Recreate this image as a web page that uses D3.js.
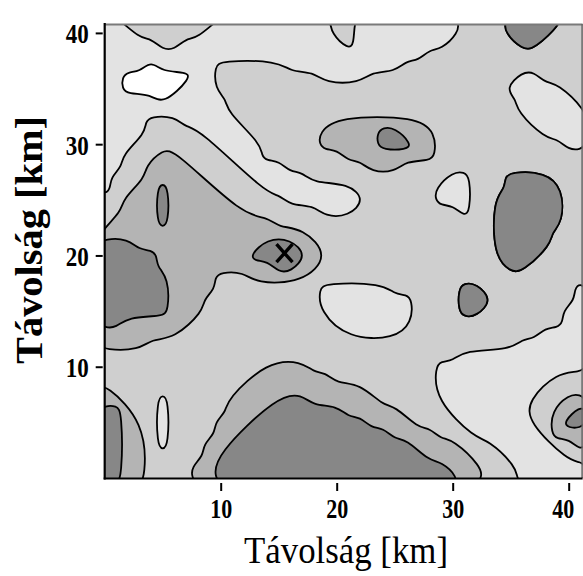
<!DOCTYPE html>
<html><head><meta charset="utf-8">
<script src="https://cdn.jsdelivr.net/npm/d3@7"></script>
<style>html,body{margin:0;padding:0;background:#fff;} svg{display:block;}</style>
</head><body>
<svg id="c" width="583" height="576"></svg>
<script>
// Classified map, 1 km grid: columns x = 0..41 km, rows from y = 41 km (top) down to y = 0 km.
// Run-length encoded rows: W white, L light, M medium, G grey, D dark.
const classRows = [
"L2 M8 L10 M2 L9 M4 D5 M2",
"L3 M6 L11 M2 L9 M4 D4 M3",
"L5 M2 L14 M1 L8 M6 D2 M4",
"L28 M14",
"L4 W1 L5 M6 L10 M16",
"L2 W6 L2 M9 L4 M13 L2 M4",
"L2 W5 L3 M25 L5 M2",
"L5 W1 L5 M25 L5 M1",
"L11 M25 L6",
"L4 M3 L5 M8 G8 M9 L5",
"L4 M5 L4 M6 G5 D2 G3 M9 L4",
"L3 M7 L4 M5 G5 D3 G2 M11 L2",
"L2 M3 G2 M4 L3 M7 G8 M13",
"L2 M2 G4 M4 L4 M7 G3 M16",
"L1 M3 G5 M4 L5 M12 L2 M3 D4 M3",
"L1 M2 G2 D1 G4 M4 L8 M7 L3 M3 D5 M2",
"M2 G3 D1 G5 M5 L7 M6 L3 M2 D6 M2",
"M2 G3 D1 G6 M7 L3 M9 L1 M2 D6 M2",
"M1 G4 D1 G9 M19 D6 M2",
"G18 M16 D5 M3",
"D3 G11 D3 G2 M15 D5 M3",
"D5 G8 D5 G2 M14 D4 M4",
"D5 G10 D2 G2 M16 D2 M5",
"D6 G4 M3 G5 M24",
"D6 G4 M9 L6 M6 D2 M8 L1",
"D6 G3 M10 L8 M4 D3 M7 L1",
"D6 G3 M10 L8 M4 D2 M7 L2",
"D2 G6 M12 L7 M13 L2",
"G7 M14 L5 M12 L4",
"G4 M32 L6",
"M31 L11",
"M14 G4 M11 L13",
"M13 G7 M9 L10 M3",
"G1 M11 G11 M6 L9 M4",
"G2 M3 L1 M5 G4 D3 G6 M5 L8 M3 G2",
"D2 G1 M2 L1 M5 G3 D7 G5 M4 L7 M2 G2 D1",
"D2 G2 M1 L1 M4 G3 D10 G4 M4 L6 M2 G1 D2",
"D2 G2 M1 L1 M4 G2 D13 G4 M3 L6 M1 G3",
"D2 G2 M1 L1 M3 G2 D16 G4 M3 L5 M2 G1",
"D2 G2 M5 G1 D18 G4 M3 L5 M2",
"D2 G2 M4 G2 D20 G3 M3 L6",
"D2 G2 M4 G2 D21 G2 M3 L6"
];
const gridTopKm = 41;           // y of first row
const classColors = {W:"#ffffff", L:"#e3e3e3", M:"#cfcfcf", G:"#b4b4b4", D:"#878787"};
const layerSets = [["L","W"], ["W"], ["G","D"], ["D"]];
const layerFill = ["L", "W", "G", "D"];
const xTicks = [10, 20, 30, 40];
const yTicks = [10, 20, 30, 40];
const markX = [15.5];
const markY = [20.2];
const xTitle = "Távolság [km]";
const yTitle = "Távolság [km]";

(function () {
const pL = 104.7, pR = 582.6, pT = 24, pB = 478;
const x = d3.scaleLinear().domain([0, 41.2]).range([pL, pR]);
const y = d3.scaleLinear().domain([0, 40.8]).range([pB, pT]);

const svg = d3.select("#c");
svg.append("defs").append("clipPath").attr("id", "clip")
  .append("rect").attr("x", pL).attr("y", pT).attr("width", pR - pL).attr("height", pB - pT);

const grid = classRows.map(r => r.split(" ").flatMap(t => Array(+t.slice(1)).fill(t[0])));
const nx = d3.max(grid, r => r.length), ny = grid.length;
grid.forEach(r => { while (r.length < nx) r.push(r[r.length - 1]); });

const plot = svg.append("g").attr("clip-path", "url(#clip)");
plot.append("rect").attr("x", pL).attr("y", pT).attr("width", pR - pL).attr("height", pB - pT)
  .attr("fill", classColors.M);

const line = d3.line().curve(d3.curveBasisClosed)
  .x(p => x(p[0] - 0.5)).y(p => y(gridTopKm + 0.5 - p[1]));

// keep only corner vertices of the marching-squares ring (and all vertices on the grid border)
function corners(ring) {
  const pts = ring.slice(0, -1), n = pts.length;
  const onEdge = p => p[0] <= 0 || p[0] >= nx || p[1] <= 0 || p[1] >= ny;
  return pts.filter((p, i) => {
    if (onEdge(p)) return true;
    const a = pts[(i - 1 + n) % n], b = pts[(i + 1) % n];
    const cr = (p[0] - a[0]) * (b[1] - p[1]) - (p[1] - a[1]) * (b[0] - p[0]);
    return Math.abs(cr) > 1e-9;
  });
}

layerSets.forEach((set, i) => {
  const values = grid.flat().map(c => set.includes(c) ? 1 : 0);
  const cont = d3.contours().size([nx, ny]).thresholds([0.5])(values)[0];
  const d = cont.coordinates.map(poly => poly.map(ring => line(corners(ring))).join("")).join("");
  plot.append("path").attr("d", d).attr("fill", classColors[layerFill[i]])
    .attr("fill-rule", "evenodd").attr("stroke", "#000").attr("stroke-width", 1.8)
    .attr("stroke-linejoin", "round");
});

// X marker
markX.forEach((mx, i) => {
  const cx = x(mx), cy = y(markY[i]);
  plot.append("path").attr("d", `M${cx-8},${cy-9}L${cx+8},${cy+9}M${cx+8},${cy-9}L${cx-8},${cy+9}`)
    .attr("stroke", "#000").attr("stroke-width", 3.4);
});

// frame
svg.append("line").attr("x1", pL).attr("x2", pR).attr("y1", pT + 0.5).attr("y2", pT + 0.5)
  .attr("stroke", "#7a7a7a").attr("stroke-width", 2);
svg.append("line").attr("x1", pR - 0.5).attr("x2", pR - 0.5).attr("y1", pT).attr("y2", pB)
  .attr("stroke", "#666").attr("stroke-width", 1.5);
svg.append("line").attr("x1", pL).attr("x2", pL).attr("y1", pT - 1).attr("y2", pB + 1.5)
  .attr("stroke", "#000").attr("stroke-width", 2.2);
svg.append("line").attr("x1", pL - 1).attr("x2", pR).attr("y1", pB + 0.5).attr("y2", pB + 0.5)
  .attr("stroke", "#000").attr("stroke-width", 2.2);

// axes
const fontTick = "'Liberation Serif', 'Times New Roman', serif";
const ax = svg.append("g").attr("transform", `translate(0,${pB + 5})`)
  .call(d3.axisBottom(x).tickValues(xTicks).tickSize(8).tickFormat(d3.format("d")));
ax.select(".domain").remove();
ax.selectAll(".tick line").attr("stroke", "#000").attr("stroke-width", 2);
ax.selectAll(".tick text").attr("y", 35).attr("dy", null).attr("x", d => d === 40 ? -6 : 0)
  .attr("font-family", fontTick).attr("font-weight", "bold").attr("font-size", 28)
  .attr("textLength", 22).attr("lengthAdjust", "spacingAndGlyphs").attr("fill", "#000");

const ay = svg.append("g").attr("transform", `translate(${pL - 2},0)`)
  .call(d3.axisLeft(y).tickValues(yTicks).tickSize(7).tickFormat(d3.format("d")));
ay.select(".domain").remove();
ay.selectAll(".tick line").attr("stroke", "#000").attr("stroke-width", 2);
ay.selectAll(".tick text").attr("x", -14).attr("dy", "0.36em")
  .attr("font-family", fontTick).attr("font-weight", "bold").attr("font-size", 28)
  .attr("textLength", 23).attr("lengthAdjust", "spacingAndGlyphs").attr("fill", "#000");

// titles
svg.append("text").attr("x", 346).attr("y", 563).attr("text-anchor", "middle")
  .attr("font-family", fontTick).attr("font-size", 38)
  .attr("textLength", 204).attr("lengthAdjust", "spacingAndGlyphs").attr("fill", "#000")
  .text(xTitle);
svg.append("text").attr("transform", "translate(42,240) rotate(-90)").attr("text-anchor", "middle")
  .attr("font-family", fontTick).attr("font-weight", "bold").attr("font-size", 37)
  .attr("textLength", 248).attr("lengthAdjust", "spacingAndGlyphs").attr("fill", "#000")
  .text(yTitle);
})();
</script>
</body></html>
